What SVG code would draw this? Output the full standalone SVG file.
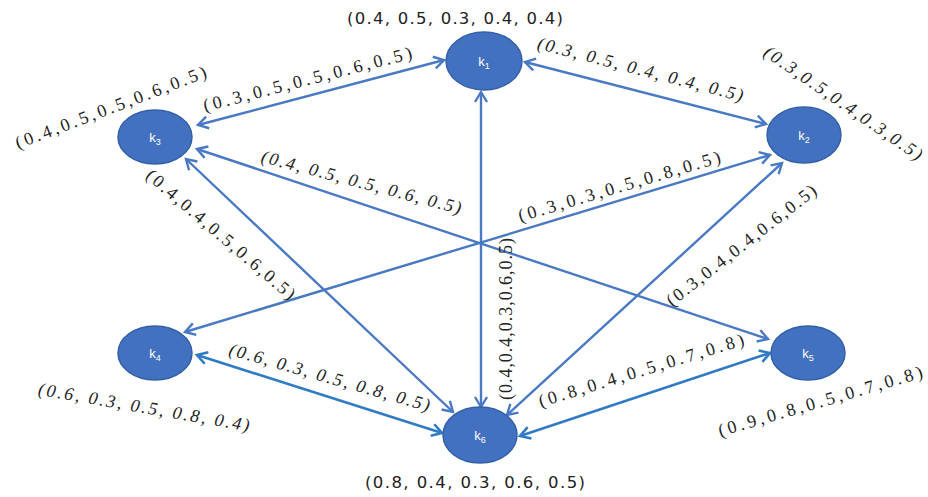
<svg xmlns="http://www.w3.org/2000/svg" width="928" height="497" viewBox="0 0 928 497">
<style>
.node{fill:#4271c0;stroke:#3360aa;stroke-width:1.5}
.nl{fill:#ffffff;font-family:"Liberation Sans",Arial,sans-serif;font-size:13px;text-anchor:middle}
.e{stroke:#4a79c4;stroke-width:2.4;fill:none;marker-start:url(#ah);marker-end:url(#ah)}
.e2{stroke:#2f7bc4;stroke-width:2.6;fill:none;marker-start:url(#ah2);marker-end:url(#ah2)}
.sv{font-family:"DejaVu Sans","Liberation Sans",sans-serif;font-size:16.5px;fill:#222;text-anchor:middle}
.s{font-family:"Liberation Serif","Times New Roman",serif;font-size:18px;fill:#222;text-anchor:middle}
.i{font-style:italic}
</style>
<defs>
<marker id="ah" markerUnits="userSpaceOnUse" markerWidth="16" markerHeight="16" refX="12" refY="7" orient="auto-start-reverse" viewBox="0 0 16 14">
<path d="M2,1 L12,7 L2,13" fill="none" stroke="#4a79c4" stroke-width="2.4"/>
</marker>
<marker id="ah2" markerUnits="userSpaceOnUse" markerWidth="16" markerHeight="16" refX="12" refY="7" orient="auto-start-reverse" viewBox="0 0 16 14">
<path d="M2,1 L12,7 L2,13" fill="none" stroke="#2f7bc4" stroke-width="2.6"/>
</marker>
</defs>
<rect width="928" height="497" fill="#ffffff"/>
<g id="connectors">
<line class="e" x1="198" y1="125" x2="444" y2="60"/>
<line class="e" x1="525" y1="62" x2="766" y2="124"/>
<line class="e" x1="481" y1="92" x2="481" y2="407"/>
<line class="e" x1="197" y1="149" x2="768" y2="339"/>
<line class="e" x1="770" y1="155" x2="185" y2="332"/>
<line class="e" x1="186" y1="159" x2="453" y2="412"/>
<line class="e" x1="507" y1="415" x2="782" y2="163"/>
<line class="e2" x1="197" y1="355" x2="442" y2="433"/>
<line class="e2" x1="520" y1="436" x2="770" y2="353"/>
</g>
<g id="edge-labels">
<text class="s" transform="translate(309,85) rotate(-14.4)" textLength="215" lengthAdjust="spacing">(0.3,0.5,0.5,0.6,0.5)</text>
<text class="s i" transform="translate(639,75) rotate(14.5)" textLength="212" lengthAdjust="spacing">(0.3, 0.5, 0.4, 0.4, 0.5)</text>
<text class="s i" transform="translate(360,188) rotate(14.7)" textLength="206" lengthAdjust="spacing">(0.4, 0.5, 0.5, 0.6, 0.5)</text>
<text class="s" transform="translate(621,192) rotate(-16.5)" textLength="210" lengthAdjust="spacing">(0.3,0.3,0.5,0.8,0.5)</text>
<text class="s" transform="translate(217,239) rotate(40.5)" textLength="190" lengthAdjust="spacing">(0.4,0.4,0.5,0.6,0.5)</text>
<text class="s" transform="translate(512,319) rotate(-90)" textLength="162" lengthAdjust="spacing">(0.4,0.4,0.3,0.6,0.5)</text>
<text class="s" transform="translate(745,250) rotate(-38)" textLength="185" lengthAdjust="spacing">(0.3,0.4,0.4,0.6,0.5)</text>
<text class="s i" transform="translate(328,383) rotate(15.8)" textLength="208" lengthAdjust="spacing">(0.6, 0.3, 0.5, 0.8, 0.5)</text>
<text class="s" transform="translate(643,376) rotate(-17)" textLength="214" lengthAdjust="spacing">(0.8,0.4,0.5,0.7,0.8)</text>
</g>
<g id="k1">
<ellipse class="node" cx="484" cy="61" rx="38" ry="29"/>
<text class="nl" x="484" y="66">k<tspan font-size="9" dy="3">1</tspan></text>
<text class="sv" x="455" y="24" textLength="216" lengthAdjust="spacing">(0.4, 0.5, 0.3, 0.4, 0.4)</text>
</g>
<g id="k2">
<ellipse class="node" cx="804" cy="135" rx="37" ry="28"/>
<text class="nl" x="804" y="140">k<tspan font-size="9" dy="3">2</tspan></text>
<text class="s i" transform="translate(840,108) rotate(34.4)" textLength="188" lengthAdjust="spacing">(0.3,0.5,0.4,0.3,0.5)</text>
</g>
<g id="k3">
<ellipse class="node" cx="155" cy="137" rx="37" ry="27"/>
<text class="nl" x="155" y="142">k<tspan font-size="9" dy="3">3</tspan></text>
<text class="s" transform="translate(113,113) rotate(-20.8)" textLength="203" lengthAdjust="spacing">(0.4,0.5,0.5,0.6,0.5)</text>
</g>
<g id="k4">
<ellipse class="node" cx="155" cy="353" rx="37" ry="27"/>
<text class="nl" x="155" y="358">k<tspan font-size="9" dy="3">4</tspan></text>
<text class="s i" transform="translate(143,413) rotate(9.9)" textLength="214" lengthAdjust="spacing">(0.6, 0.3, 0.5, 0.8, 0.4)</text>
</g>
<g id="k5">
<ellipse class="node" cx="808" cy="353" rx="37" ry="27"/>
<text class="nl" x="808" y="358">k<tspan font-size="9" dy="3">5</tspan></text>
<text class="s" transform="translate(822,407) rotate(-16.3)" textLength="212" lengthAdjust="spacing">(0.9,0.8,0.5,0.7,0.8)</text>
</g>
<g id="k6">
<ellipse class="node" cx="480" cy="435" rx="37" ry="28"/>
<text class="nl" x="480" y="440">k<tspan font-size="9" dy="3">6</tspan></text>
<text class="sv" x="475" y="488" textLength="220" lengthAdjust="spacing">(0.8, 0.4, 0.3, 0.6, 0.5)</text>
</g>
</svg>
